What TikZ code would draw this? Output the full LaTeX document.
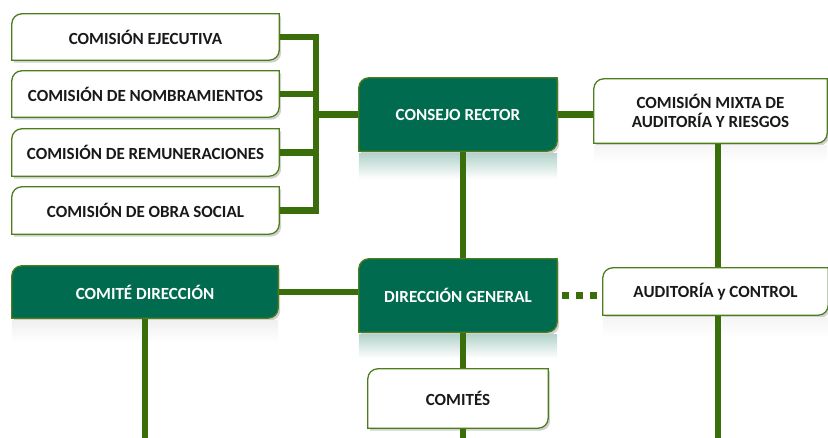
\documentclass[tikz,border=0pt]{standalone}
\usepackage{fontspec}
\setmainfont{Carlito}
\usetikzlibrary{calc}
\definecolor{dkgreen}{RGB}{0,107,79}
\definecolor{linegreen}{RGB}{58,110,10}
\definecolor{edgegreen}{RGB}{78,125,30}
\definecolor{txt}{RGB}{25,25,25}
\pgfdeclarelayer{shadowlayer}
\pgfdeclarelayer{lineslayer}
\pgfdeclarelayer{boxlayer}
\pgfsetlayers{shadowlayer,lineslayer,boxlayer,main}
\tikzset{
  lbl/.style={inner sep=0pt, align=center, font=\fontsize{17}{19.5}\selectfont\bfseries},
  darklbl/.style={lbl, text=white},
  lightlbl/.style={lbl, text=txt},
  darkfill/.style={fill=dkgreen, draw=edgegreen, line width=1.3pt},
  lightfill/.style={fill=white, draw=edgegreen, line width=1.3pt},
  conn/.style={draw=linegreen, line width=6.5pt},
  dotconn/.style={draw=linegreen, line width=7pt, dash pattern=on 7pt off 7pt},
}
% diagonal rounded box behind a named node
\newcommand{\diagbox}[2]{%
  \begin{pgfonlayer}{shadowlayer}
    \fill[black, opacity=0.18] ([shift={(2pt,-2.5pt)}]#1.south west)
      -- ([shift={(2pt,-10pt)}]#1.north west) arc[start angle=180,end angle=90,radius=10pt]
      -- ([shift={(2pt,-2.5pt)}]#1.north east) -- ([shift={(2pt,7.5pt)}]#1.south east)
      arc[start angle=0,end angle=-90,radius=10pt] -- cycle;
  \end{pgfonlayer}
  \begin{pgfonlayer}{boxlayer}
    \path[#2] (#1.south west)
      -- ([yshift=-10pt]#1.north west) arc[start angle=180,end angle=90,radius=10pt]
      -- (#1.north east) -- ([yshift=10pt]#1.south east)
      arc[start angle=0,end angle=-90,radius=10pt] -- cycle;
  \end{pgfonlayer}}
\newcommand{\reflect}[3]{%
  \begin{pgfonlayer}{shadowlayer}
    \shade[top color=#3, bottom color=white] ([yshift=-2pt]#1.south west) rectangle ([yshift=-#2]#1.south east);
  \end{pgfonlayer}}
\begin{document}
\begin{tikzpicture}[x=1pt,y=1pt]
\useasboundingbox (0,0) rectangle (828,438);

% left commissions
\node[lightlbl, minimum width=267pt, minimum height=46pt] (ej) at (145.5,401) {COMISIÓN EJECUTIVA};
\node[lightlbl, minimum width=267pt, minimum height=46pt] (nom) at (145.5,344) {COMISIÓN DE NOMBRAMIENTOS};
\node[lightlbl, minimum width=267pt, minimum height=47pt] (rem) at (145.5,285.5) {COMISIÓN DE REMUNERACIONES};
\node[lightlbl, minimum width=267pt, minimum height=47pt] (obra) at (145.5,227.5) {COMISIÓN DE OBRA SOCIAL};

% central
\node[darklbl, minimum width=198pt, minimum height=73pt] (cr) at (458,323.5) {CONSEJO RECTOR};
\node[lightlbl, minimum width=233pt, minimum height=64pt] (cma) at (710.5,327) {COMISIÓN MIXTA DE\\AUDITORÍA Y RIESGOS};
\node[darklbl, minimum width=266pt, minimum height=52pt] (cd) at (145,146) {COMITÉ DIRECCIÓN};
\node[darklbl, minimum width=198pt, minimum height=73pt] (dg) at (458,142.5) {DIRECCIÓN GENERAL};
\node[lightlbl, minimum width=225pt, minimum height=47pt] (aud) at (715.5,146.5) {AUDITORÍA y CONTROL};
\node[lightlbl, minimum width=180pt, minimum height=59pt] (com) at (458,39.5) {COMITÉS};

\foreach \n in {ej,nom,rem,obra,cma,aud,com} {\diagbox{\n}{lightfill}}
\foreach \n in {cr,cd,dg} {\diagbox{\n}{darkfill}}

\reflect{cr}{28pt}{dkgreen!30}
\reflect{dg}{26pt}{dkgreen!30}
\reflect{cd}{24pt}{black!6}
\reflect{cma}{20pt}{black!4}
\reflect{aud}{22pt}{black!4}

\coordinate (bx) at (316,0);
\coordinate (bottom) at (0,0);

\begin{pgfonlayer}{lineslayer}
  \draw[conn, line join=miter] (ej.east) -- (ej.east -| bx) -- (obra.east -| bx) -- (obra.east);
  \draw[conn] (nom.east) -- (nom.east -| bx);
  \draw[conn] (rem.east) -- (rem.east -| bx);
  \draw[conn] (bx |- cr.west) -- (cr.west);
  \draw[conn] (cr.east) -- (cr.east -| cma.west);
  \draw[conn] ([xshift=5pt]cr.south) -- ([xshift=5pt]dg.north);
  \draw[conn] ([xshift=2.5pt]aud.north |- cma.south) -- ([xshift=2.5pt]aud.north);
  \draw[conn] (cd.east) -- (cd.east -| dg.west);
  \draw[dotconn] ([xshift=5pt]dg.east) -- ([xshift=-6pt]aud.west |- dg.east);
  \draw[conn] (cd.south) -- (cd.south |- bottom);
  \draw[conn] ([xshift=5pt]dg.south) -- ([xshift=5pt]com.north);
  \draw[conn] ([xshift=5pt]com.south) -- ([xshift=5pt]com.south |- bottom);
  \draw[conn] ([xshift=2.5pt]aud.south) -- ([xshift=2.5pt]aud.south |- bottom);
\end{pgfonlayer}
\end{tikzpicture}
\end{document}
